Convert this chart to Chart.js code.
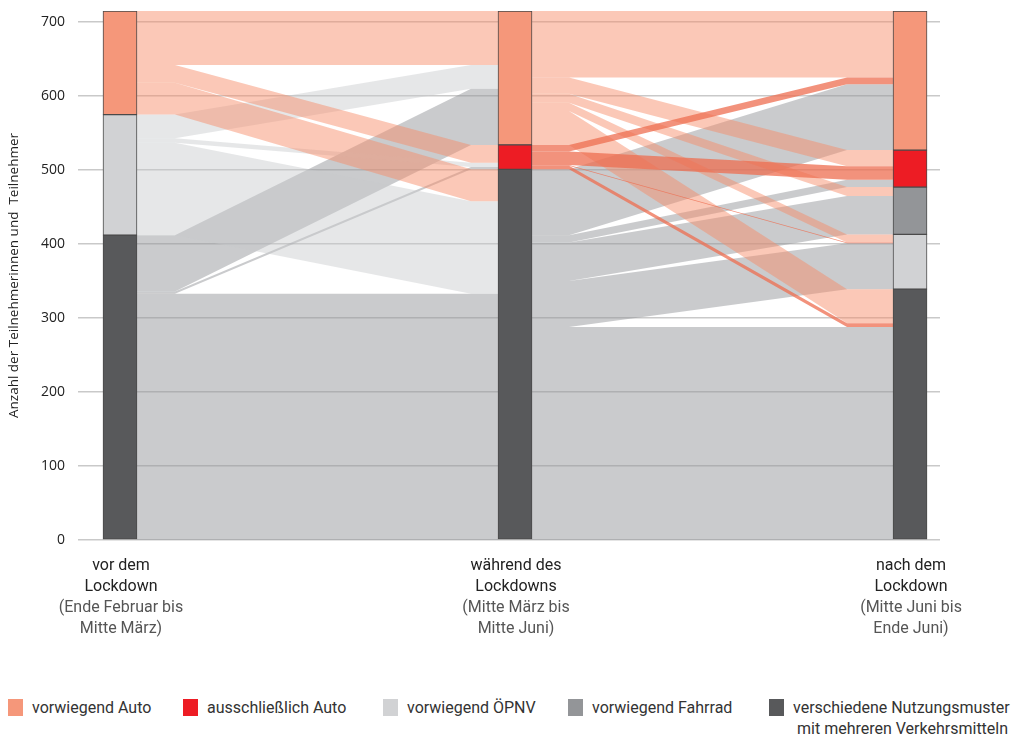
<!DOCTYPE html>
<html>
<head>
<meta charset="utf-8">
<script src="https://cdn.jsdelivr.net/npm/chart.js@4.4.1/dist/chart.umd.min.js"></script>
<style>
  body { margin: 0; background: #fff; width: 1029px; height: 740px; overflow: hidden; font-family: Roboto, sans-serif; }
  #wrap { position: absolute; left: 0; top: 0; width: 1029px; height: 690px; }
  .leg { position: absolute; top: 697px; font-size: 16px; color: #333; line-height: 21px; white-space: nowrap; }
  .leg i { position: absolute; left: -24px; top: 2px; width: 15px; height: 17px; }
  .leg span { display: block; margin-left: 4px; }
</style>
</head>
<body>
<div id="wrap"><canvas id="chart"></canvas></div>
<div id="legend"></div>
<script>
// Zeitpunkte (x-Achse)
const periods = [
  ['vor dem', 'Lockdown', '(Ende Februar bis', 'Mitte März)'],
  ['während des', 'Lockdowns', '(Mitte März bis', 'Mitte Juni)'],
  ['nach dem', 'Lockdown', '(Mitte Juni bis', 'Ende Juni)']
];

// Gruppen, von oben nach unten gestapelt
const modes = ['vorwiegend Auto', 'ausschließlich Auto', 'vorwiegend Fahrrad', 'vorwiegend ÖPNV',
  ['verschiedene Nutzungsmuster', 'mit mehreren Verkehrsmitteln']];
const legendOrder = [0, 1, 3, 2, 4];

const nodeColors = ['#f5977a', '#ed1c24', '#939598', '#d1d2d4', '#58595b'];
const flowColors = ['rgba(247,140,105,0.48)', 'rgba(237,110,80,0.75)', 'rgba(147,149,152,0.5)',
  'rgba(200,202,205,0.45)', 'rgba(150,152,156,0.5)'];

const yTicks = [0, 100, 200, 300, 400, 500, 600, 700];

// Übergänge: Zeile = von, Spalte = nach (Auto, ausschl. Auto, Fahrrad, ÖPNV, verschiedene)
const flowsVorWaehrend = [
  [73, 24, 0, 0, 43],
  [0, 0, 0, 0, 0],
  [0, 0, 0, 0, 0],
  [32, 6, 0, 0, 125],
  [76, 3, 0, 0, 333]
];
const flowsWaehrendNach = [
  [90, 22, 12, 11, 46],
  [9, 18, 0, 1, 5],
  [0, 0, 0, 0, 0],
  [0, 0, 0, 0, 0],
  [89, 10, 52, 62, 288]
];

const sum = a => a.reduce((p, v) => p + v, 0);
const nodesVor = flowsVorWaehrend.map(sum);
const nodesWaehrend = modes.map((m, j) => sum(flowsVorWaehrend.map(r => r[j])));
const nodesNach = modes.map((m, j) => sum(flowsWaehrendNach.map(r => r[j])));
const nodes = [nodesVor, nodesWaehrend, nodesNach];
const gaps = [flowsVorWaehrend, flowsWaehrendNach];

const BAR = 34;
const stubs = [[38, 27], [37, 46]];

function topsOf(vals) {
  return vals.map((v, k) => sum(vals.slice(k)));
}

const flowPlugin = {
  id: 'flows',
  beforeDatasetsDraw(chart) {
    const { ctx, scales: { x, y } } = chart;
    const bands = [];
    gaps.forEach((m, g) => {
      const srcTop = topsOf(nodes[g]);
      const tgtTop = topsOf(nodes[g + 1]);
      const x0 = x.getPixelForValue(g) + BAR / 2;
      const x1 = x.getPixelForValue(g + 1) - BAR / 2;
      for (let s = 0; s < 5; s++) {
        for (let t = 0; t < 5; t++) {
          const v = m[s][t];
          if (!v) continue;
          const sy = srcTop[s] - sum(m[s].slice(0, t));
          const ty = tgtTop[t] - sum(m.slice(0, s).map(r => r[t]));
          bands.push({ s, x0, x1, xa: x0 + stubs[g][0], xb: x1 - stubs[g][1], sy, ty, v });
        }
      }
    });
    const drawOrder = [4, 3, 2, 0, 1];
    ctx.save();
    drawOrder.forEach(s => {
      bands.filter(b => b.s === s).forEach(b => {
        const s0 = y.getPixelForValue(b.sy), s1 = y.getPixelForValue(b.sy - b.v);
        const t0 = y.getPixelForValue(b.ty), t1 = y.getPixelForValue(b.ty - b.v);
        ctx.beginPath();
        ctx.moveTo(b.x0, s0);
        ctx.lineTo(b.xa, s0);
        ctx.lineTo(b.xb, t0);
        ctx.lineTo(b.x1, t0);
        ctx.lineTo(b.x1, t1);
        ctx.lineTo(b.xb, t1);
        ctx.lineTo(b.xa, s1);
        ctx.lineTo(b.x0, s1);
        ctx.closePath();
        ctx.fillStyle = flowColors[s];
        ctx.fill();
      });
    });
    ctx.restore();
  }
};

const periodLabels = {
  id: 'periodLabels',
  afterDraw(chart) {
    const { ctx, scales: { x }, chartArea } = chart;
    ctx.save();
    ctx.font = '16px Roboto';
    ctx.textAlign = 'center';
    ctx.textBaseline = 'middle';
    periods.forEach((lines, i) => {
      const px = x.getPixelForValue(i);
      lines.forEach((line, j) => {
        ctx.fillStyle = j < 2 ? '#222' : '#555';
        ctx.fillText(line, px + 1, chartArea.bottom + 26 + j * 21);
      });
    });
    ctx.restore();
  }
};

const datasets = [4, 3, 2, 1, 0].map(k => ({
  label: Array.isArray(modes[k]) ? modes[k].join(' ') : modes[k],
  data: [0, 1, 2].map(c => ({ x: c, y: nodes[c][k] || null })),
  backgroundColor: nodeColors[k],
  borderColor: '#4a4a4a',
  borderWidth: 1,
  borderSkipped: false,
  barThickness: BAR
}));

new Chart(document.getElementById('chart'), {
  type: 'bar',
  data: { datasets },
  options: {
    responsive: true,
    maintainAspectRatio: false,
    animation: false,
    layout: { padding: { top: 11, right: 89, bottom: 150, left: 0 } },
    plugins: { legend: { display: false }, tooltip: { enabled: false } },
    scales: {
      x: { type: 'linear', offset: false, min: -0.1063, max: 2.0759, stacked: true, display: false },
      y: {
        stacked: true,
        min: 0,
        max: 715,
        afterBuildTicks: s => { s.ticks = yTicks.map(v => ({ value: v })); },
        afterFit: s => { s.width = 78; s.paddingTop = 0; s.paddingBottom = 0; },
        grid: { color: '#c9c9c9', lineWidth: 1.5, drawTicks: false },
        border: { display: false },
        ticks: { padding: 13, color: '#222', font: { family: 'Open Sans', size: 14 } },
        title: {
          display: true,
          text: 'Anzahl der Teilnehmerinnen und  Teilnehmer',
          color: '#222',
          font: { family: 'Open Sans', size: 13.5 },
          padding: { top: 6, bottom: 2 }
        }
      }
    }
  },
  plugins: [flowPlugin, periodLabels]
});

// Legende
const legendX = [32, 207, 407, 592, 793];
const legend = document.getElementById('legend');
legendOrder.forEach((k, i) => {
  const d = document.createElement('div');
  d.className = 'leg';
  d.style.left = legendX[i] + 'px';
  const lines = Array.isArray(modes[k]) ? modes[k] : [modes[k]];
  d.innerHTML = '<i style="background:' + nodeColors[k] + '"></i>' + lines[0] +
    (lines[1] ? '<span>' + lines[1] + '</span>' : '');
  legend.appendChild(d);
});
</script>
</body>
</html>
